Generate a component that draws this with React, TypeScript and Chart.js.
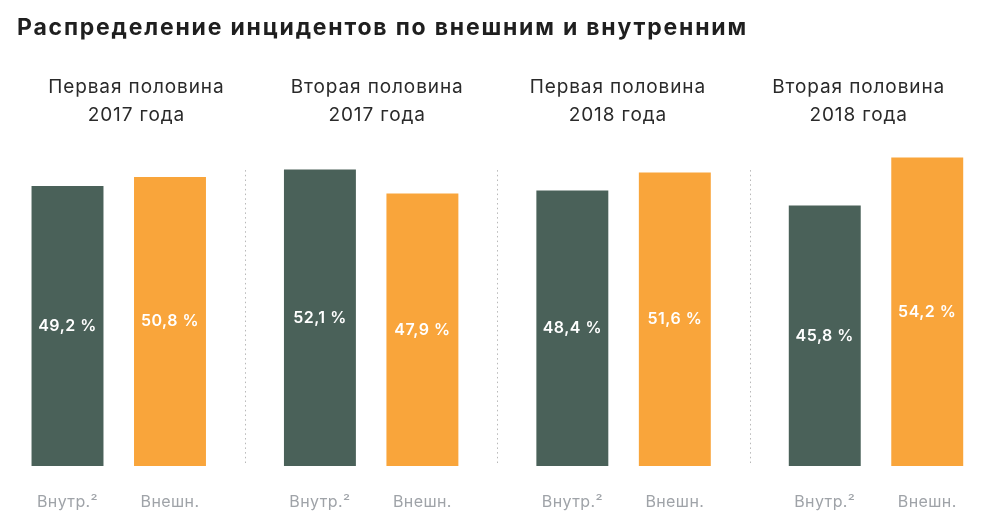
import React, { useEffect, useRef } from "react";
import { Chart, registerables } from "chart.js";
Chart.register(...registerables);

const chartTitle = "Распределение инцидентов по внешним и внутренним";
const periodLine1 = ["Первая половина", "Вторая половина", "Первая половина", "Вторая половина"];
const periodLine2 = ["2017 года", "2017 года", "2018 года", "2018 года"];
const internalValues = [49.2, 52.1, 48.4, 45.8];
const externalValues = [50.8, 47.9, 51.6, 54.2];
const seriesNames = ["Внутр.²", "Внешн."];

const GREEN = "#4a6159";
const ORANGE = "#f9a53b";
const FONT = "Inter, 'Open Sans', sans-serif";

const fmt = (v: number) => v.toFixed(1).replace(".", ",") + " %";

const textPlugin = {
  id: "texts",
  afterDatasetsDraw(chart: any) {
    const ctx = chart.ctx as any;
    const xs = chart.scales.x;
    const ys = chart.scales.y;
    const w = chart.width;
    ctx.save();
    // separators
    ctx.strokeStyle = "#b8b8b8";
    ctx.lineWidth = 1;
    ctx.setLineDash([1.5, 3.2]);
    for (let i = 0; i < periodLine1.length - 1; i++) {
      const x = Math.round((xs.getPixelForValue(i) + xs.getPixelForValue(i + 1)) / 2) + 0.5;
      ctx.beginPath();
      ctx.moveTo(x, ys.getPixelForValue(52));
      ctx.lineTo(x, ys.getPixelForValue(0));
      ctx.stroke();
    }
    ctx.setLineDash([]);
    ctx.textAlign = "center";
    ctx.textBaseline = "middle";
    // value labels + bottom labels
    chart.data.datasets.forEach((ds: any, di: number) => {
      const meta = chart.getDatasetMeta(di);
      meta.data.forEach((bar: any, i: number) => {
        ctx.fillStyle = "#ffffff";
        ctx.font = `600 16px ${FONT}`;
        ctx.letterSpacing = "0.5px";
        ctx.fillText(fmt(ds.data[i]), bar.x, (bar.y + bar.base) / 2);
        ctx.fillStyle = "#9fa3a8";
        ctx.font = `400 16px ${FONT}`;
        ctx.letterSpacing = "0.4px";
        ctx.fillText(seriesNames[di], bar.x, bar.base + 36);
      });
    });
    // title
    ctx.fillStyle = "#1f1f1f";
    ctx.textAlign = "left";
    ctx.font = `700 23px ${FONT}`;
    ctx.letterSpacing = "1.8px";
    ctx.fillText(chartTitle, 9, 20);
    // period titles
    ctx.fillStyle = "#2a2a2a";
    ctx.textAlign = "center";
    ctx.font = `400 19px ${FONT}`;
    ctx.letterSpacing = "0.9px";
    const colW = (w - 8) / periodLine1.length;
    for (let i = 0; i < periodLine1.length; i++) {
      const cx = 8 + (i + 0.5) * colW;
      ctx.fillText(periodLine1[i], cx, 79);
      ctx.fillText(periodLine2[i], cx, 107);
    }
    ctx.restore();
  },
};

export default function App() {
  const ref = useRef<HTMLCanvasElement | null>(null);
  useEffect(() => {
    if (!ref.current) return;
    const chart = new Chart(ref.current, {
      type: "bar",
      data: {
        labels: periodLine1.map((p, i) => p + " " + periodLine2[i]),
        datasets: [
          { label: seriesNames[0], data: internalValues, backgroundColor: GREEN, clip: false as any },
          { label: seriesNames[1], data: externalValues, backgroundColor: ORANGE, clip: false as any },
        ],
      },
      options: {
        responsive: false,
        animation: false,
        layout: { padding: { left: 110.75, right: 103, top: 116.6, bottom: 56 } },
        categoryPercentage: 0.812,
        barPercentage: 0.702,
        plugins: { legend: { display: false }, tooltip: { enabled: false }, title: { display: false } },
        scales: {
          x: { type: "category", offset: false, display: false, grid: { display: false } },
          y: { min: 0, max: 60, display: false, grid: { display: false } },
        },
      } as any,
      plugins: [textPlugin],
    });
    return () => chart.destroy();
  }, []);
  return (
    <div style={{ width: 971, height: 514 }}>
      <canvas ref={ref} width={971} height={514} />
    </div>
  );
}
